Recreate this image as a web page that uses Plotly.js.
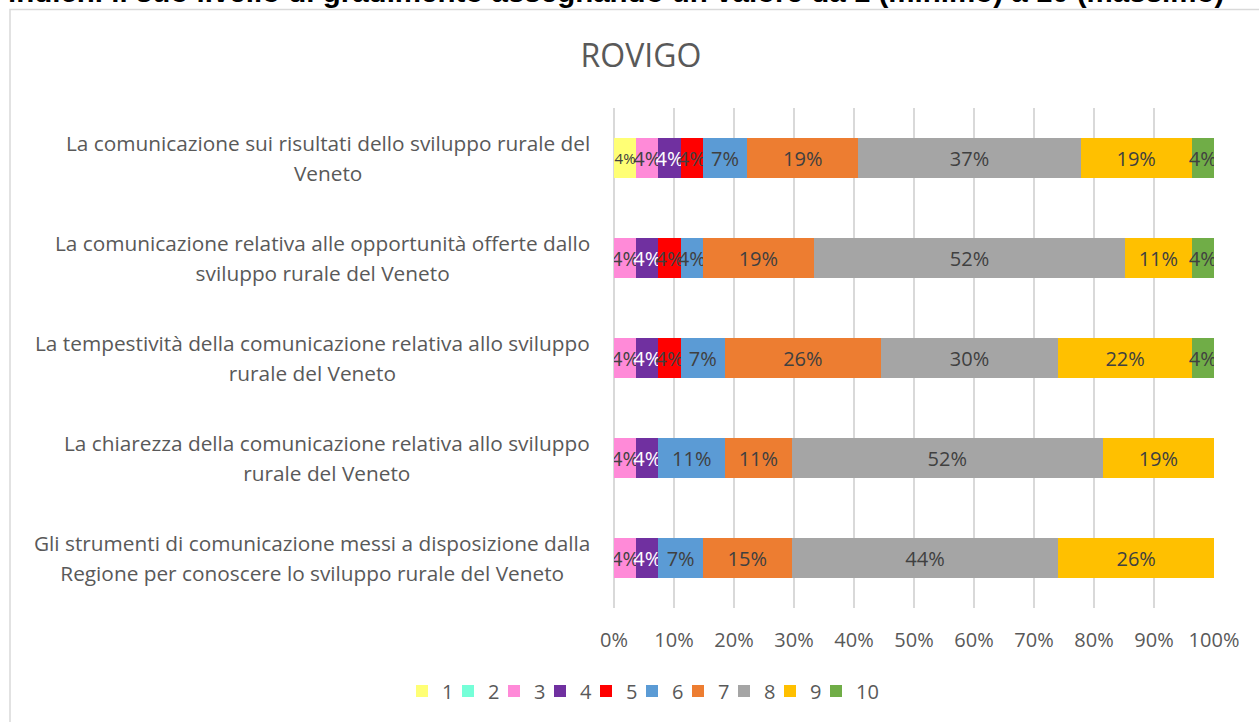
<!DOCTYPE html>
<html>
<head>
<meta charset="utf-8">
<script src="https://cdn.plot.ly/plotly-3.0.1.min.js"></script>
<style>
html,body{margin:0;padding:0;background:#fff;}
#chart{width:1259px;height:722px;}
</style>
</head>
<body>
<div id="chart"></div>
<script>
// ---- data (percent of respondents) ----
var categories = [
  "La comunicazione sui risultati dello sviluppo rurale del<br>Veneto",
  "La comunicazione relativa alle opportunità offerte dallo<br>sviluppo rurale del Veneto",
  "La tempestività della comunicazione relativa allo sviluppo<br>rurale del Veneto",
  "La chiarezza della comunicazione relativa allo sviluppo<br>rurale del Veneto",
  "Gli strumenti di comunicazione messi a disposizione dalla<br>Regione per conoscere lo sviluppo rurale del Veneto"
];
var seriesNames = ["1","2","3","4","5","6","7","8","9","10"];
var s1  = [3.70, 0, 0, 0, 0];
var s2  = [0, 0, 0, 0, 0];
var s3  = [3.70, 3.70, 3.70, 3.70, 3.70];
var s4  = [3.70, 3.70, 3.70, 3.70, 3.70];
var s5  = [3.70, 3.70, 3.70, 0, 0];
var s6  = [7.41, 3.70, 7.41, 11.11, 7.41];
var s7  = [18.52, 18.52, 25.93, 11.11, 14.81];
var s8  = [37.04, 51.85, 29.63, 51.85, 44.44];
var s9  = [18.52, 11.11, 22.22, 18.52, 25.93];
var s10 = [3.70, 3.70, 3.70, 0, 0];
var xTickVals = [0,10,20,30,40,50,60,70,80,90,100];
var xTickText = ["0%","10%","20%","30%","40%","50%","60%","70%","80%","90%","100%"];
var chartTitle = "ROVIGO";
var pageHeading = "indichi il suo livello di gradimento assegnando un valore da 1 (minimo) a 10 (massimo)";

// ---- styles ----
var seriesValues = [s1,s2,s3,s4,s5,s6,s7,s8,s9,s10];
var colors = ["#FFFF75","#75FFD8","#FF8AD8","#7030A0","#FF0000","#5B9BD5","#ED7D31","#A5A5A5","#FFC000","#70AD47"];
var labelColors = ["#404040","#404040","#404040","#FFFFFF","#404040","#404040","#404040","#404040","#404040","#404040"];
var labelSizes = [15,20,20,20,20,20,20,20,20,20];
var FONT = "Open Sans, sans-serif";
var GREY = "#595959";

// pixel helpers for plot area 614..1214 x 108..608
function px(x){ return (x-614)/600; }
function py(y){ return (608-y)/500; }

var traces = seriesValues.map(function(vals, i){
  return {
    type: "bar",
    orientation: "h",
    name: seriesNames[i],
    y: categories,
    x: vals,
    text: vals.map(function(v){ return v > 0 ? Math.round(v) + "%" : ""; }),
    textposition: "inside",
    insidetextanchor: "middle",
    constraintext: "none",
    textangle: 0,
    textfont: {family: FONT, size: labelSizes[i], color: labelColors[i]},
    marker: {color: colors[i], line: {width: 0}},
    hoverinfo: "skip"
  };
});
// blank, invisible legend spacer so the last legend label ("10") is not clipped
traces.push({
  type: "bar", orientation: "h", name: " ",
  y: categories, x: categories.map(function(){ return 0; }),
  marker: {color: "rgba(0,0,0,0)", line: {width: 0}},
  hoverinfo: "skip"
});

var annotations = categories.map(function(c){
  var lines = c.split("<br>").map(function(l){ return '<span style="font-size:20.8px">' + l + '</span>'; });
  return {
    xref: "paper", yref: "y",
    x: px(592), y: c,
    xanchor: "right", yanchor: "middle",
    align: "center",
    showarrow: false,
    text: lines.join("<br>"),
    font: {family: FONT, size: 23, color: GREY}
  };
});
annotations.push({
  xref: "paper", yref: "paper",
  x: px(6), y: py(10),
  xanchor: "left", yanchor: "bottom",
  showarrow: false,
  text: "<b>" + pageHeading + "</b>",
  font: {family: "Liberation Sans, Arial, sans-serif", size: 29.5, color: "#000000"}
});

var layout = {
  width: 1259, height: 722,
  margin: {l: 614, r: 45, t: 108, b: 114, pad: 0},
  paper_bgcolor: "#FFFFFF",
  plot_bgcolor: "#FFFFFF",
  barmode: "stack",
  bargap: 0.6,
  showlegend: true,
  title: {
    text: chartTitle,
    font: {family: FONT, size: 32, color: GREY},
    xref: "container", yref: "container",
    x: 641/1259, y: 1 - 56/722,
    xanchor: "center", yanchor: "middle"
  },
  xaxis: {
    range: [0, 100],
    tickmode: "array",
    tickvals: xTickVals,
    ticktext: xTickText,
    showgrid: true,
    gridcolor: "#D9D9D9",
    gridwidth: 1.5,
    zeroline: true,
    zerolinecolor: "#D9D9D9",
    zerolinewidth: 1.5,
    showline: false,
    ticks: "",
    ticklabelstandoff: 18,
    tickfont: {family: FONT, size: 20, color: GREY},
    fixedrange: true
  },
  yaxis: {
    type: "category",
    autorange: "reversed",
    showticklabels: false,
    showgrid: false,
    zeroline: false,
    showline: false,
    ticks: "",
    fixedrange: true
  },
  legend: {
    orientation: "h",
    x: px(402), y: py(691),
    xanchor: "left", yanchor: "middle",
    traceorder: "normal",
    font: {family: FONT, size: 20, color: GREY},
    itemwidth: 30,
    entrywidth: 1,
    bgcolor: "rgba(0,0,0,0)"
  },
  annotations: annotations,
  shapes: [{
    type: "rect", xref: "paper", yref: "paper",
    x0: px(10), x1: px(1275), y0: py(740), y1: py(9.5),
    line: {color: "#D9D9D9", width: 1.5},
    fillcolor: "rgba(0,0,0,0)",
    layer: "below"
  }]
};

Plotly.newPlot("chart", traces, layout, {displayModeBar: false, staticPlot: true});
</script>
</body>
</html>
